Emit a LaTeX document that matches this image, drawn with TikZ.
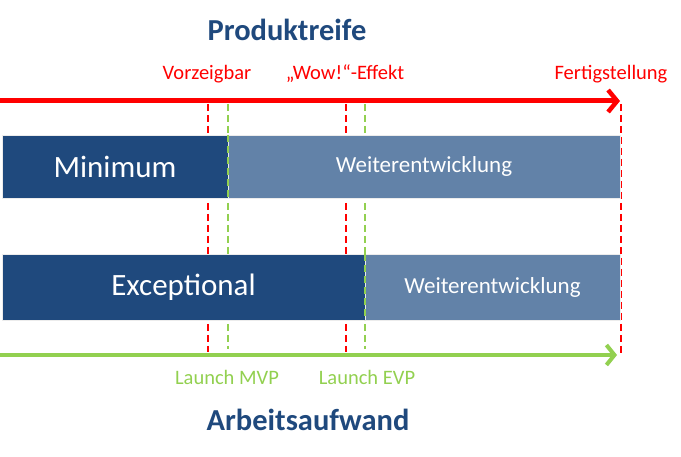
\documentclass[tikz,border=0pt]{standalone}
\usepackage{fontspec}
\setmainfont{Carlito}
\usetikzlibrary{arrows.meta}
\definecolor{darkbar}{HTML}{1F497D}
\definecolor{lightbar}{HTML}{6282A8}
\definecolor{titleblue}{HTML}{1F497D}
\definecolor{mygreen}{HTML}{92D050}
\definecolor{myred}{HTML}{FF0000}
\begin{document}
\begin{tikzpicture}[x=1pt,y=-1pt,
  bar/.style={anchor=north west,inner sep=0pt,outer sep=0pt,draw=white!85!gray,line width=0.6pt,text=white},
  bigtxt/.style={font=\fontsize{31}{36}\selectfont},
  midtxt/.style={font=\fontsize{23}{28}\selectfont},
  title/.style={font=\bfseries\fontsize{30.5}{36}\selectfont,text=titleblue},
  redlbl/.style={font=\fontsize{20.5}{24}\selectfont,text=myred},
  greenlbl/.style={font=\fontsize{20.5}{24}\selectfont,text=mygreen},
  reddash/.style={draw=myred,line width=2.6pt,dash pattern=on 7pt off 4pt},
  greendash/.style={draw=mygreen,line width=2.6pt,dash pattern=on 7pt off 4pt},
  redarrow/.style={draw=myred,line width=5pt,-{Straight Barb[length=9pt,width=22pt,line width=4.5pt]}},
  greenarrow/.style={draw=mygreen,line width=4pt,-{Straight Barb[length=8pt,width=20pt,line width=4pt]}}
]
\useasboundingbox (0,0) rectangle (681,457);
% titles and labels
\node[title] (t1) at (287,30) {Produktreife};
\node[title] (t2) at (308,420) {Arbeitsaufwand};
\node[redlbl] (l1) at (207,74) {Vorzeigbar};
\node[redlbl] (l2) at (345,74) {„Wow!“-Effekt};
\node[redlbl] (l3) at (611,74) {Fertigstellung};
\node[greenlbl] (l4) at (227,377) {Launch MVP};
\node[greenlbl] (l5) at (367,377) {Launch EVP};
% dashed line end points
\coordinate (r1a) at (208,104); \coordinate (r1b) at (208,352);
\coordinate (g1a) at (228,104); \coordinate (g1b) at (228,349);
\coordinate (r2a) at (346,104); \coordinate (r2b) at (346,352);
\coordinate (g2a) at (365,104); \coordinate (g2b) at (365,349);
\coordinate (r3a) at (621,104); \coordinate (r3b) at (621,356);
\draw[reddash] (r1a) -- (r1b);
\draw[reddash] (r2a) -- (r2b);
\draw[reddash] (r3a) -- (r3b);
\draw[greendash] (g1a) -- (g1b);
\draw[greendash] (g2a) -- (g2b);
% bars
\node[bar,fill=darkbar,minimum width=226pt,minimum height=63pt,bigtxt] (min) at (2,135) {Minimum};
\node[bar,fill=lightbar,minimum width=392pt,minimum height=63pt,midtxt] (w1) at (228,135) {Weiterentwicklung};
\node[bar,fill=darkbar,minimum width=363pt,minimum height=66pt,bigtxt] (exc) at (2,254) {Exceptional};
\node[bar,fill=lightbar,minimum width=255pt,minimum height=66pt,midtxt] (w2) at (365,254) {Weiterentwicklung};
\draw[greendash] (min.north east) -- (min.south east);
\draw[greendash] (exc.north east) -- (exc.south east);
% arrows
\coordinate (ra) at (0,101); \coordinate (rb) at (620,101);
\coordinate (ga) at (0,355); \coordinate (gb) at (617,355);
\draw[redarrow] (ra) -- (rb);
\draw[greenarrow] (ga) -- (gb);
\end{tikzpicture}
\end{document}
